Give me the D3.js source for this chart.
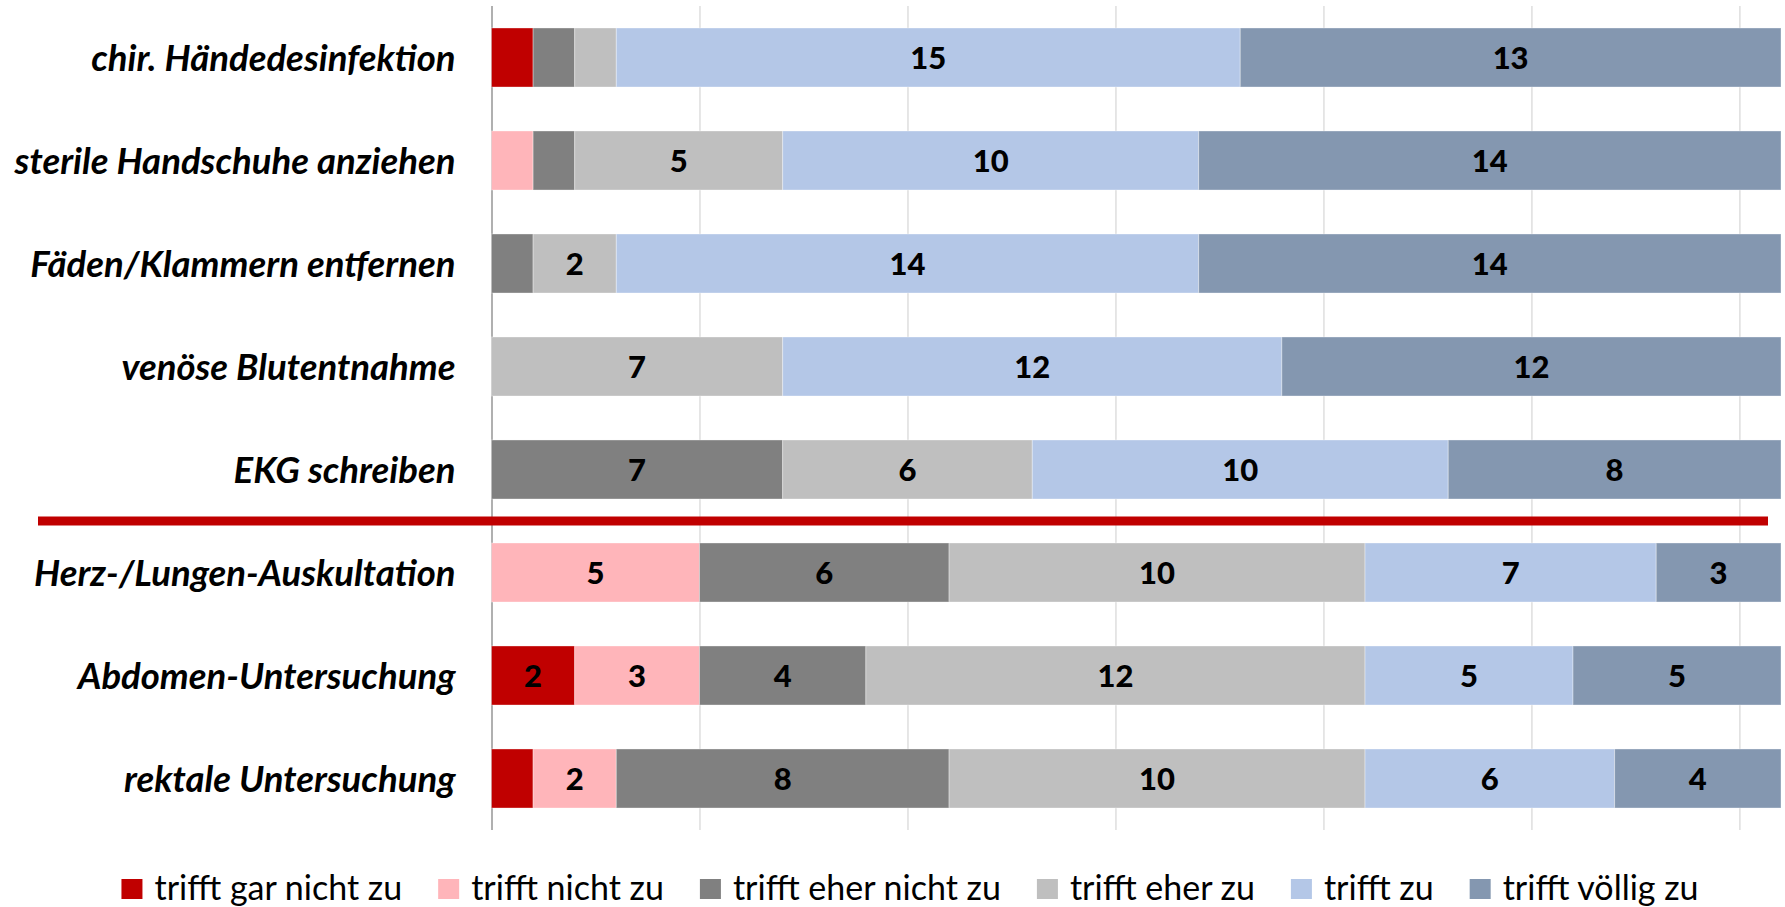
<!DOCTYPE html>
<html>
<head>
<meta charset="utf-8">
<script src="https://d3js.org/d3.v7.min.js"></script>
<style>
  body { margin: 0; background: #ffffff; }
  text { font-family: Lato, "Open Sans", sans-serif; }
</style>
</head>
<body>
<div id="chart"></div>
<script>
// Categories (top to bottom)
var categories = [
    "chir. Händedesinfektion",
    "sterile Handschuhe anziehen",
    "Fäden/Klammern entfernen",
    "venöse Blutentnahme",
    "EKG schreiben",
    "Herz-/Lungen-Auskultation",
    "Abdomen-Untersuchung",
    "rektale Untersuchung"
];

// Series names (legend order = stack order)
var seriesNames = ["trifft gar nicht zu", "trifft nicht zu", "trifft eher nicht zu", "trifft eher zu", "trifft zu", "trifft völlig zu"];

// Series values per category
var garNichtZu = [1, 0, 0, 0, 0, 0, 2, 1];
var nichtZu = [0, 1, 0, 0, 0, 5, 3, 2];
var eherNichtZu = [1, 1, 1, 0, 7, 6, 4, 8];
var eherZu = [1, 5, 2, 7, 6, 10, 12, 10];
var zu = [15, 10, 14, 12, 10, 7, 5, 6];
var voelligZu = [13, 14, 14, 12, 8, 3, 5, 4];

// x-axis gridline ticks
var xTicks = [0, 5, 10, 15, 20, 25, 30];

var colors = ["#c00000", "#ffb5ba", "#808080", "#bfbfbf", "#b4c7e7", "#8497b0"];

// SVG area
var svgWidth = 1785;
var svgHeight = 907;

var chartMargin = { top: 6, right: 4, bottom: 77, left: 491.5 };
var chartWidth = svgWidth - chartMargin.left - chartMargin.right;
var chartHeight = svgHeight - chartMargin.top - chartMargin.bottom;

var svg = d3.select("#chart")
    .append("svg")
    .attr("width", svgWidth)
    .attr("height", svgHeight);

var chartGroup = svg.append("g")
    .attr("transform", `translate(${chartMargin.left}, ${chartMargin.top})`);

// build rows for the stack
var seriesValues = [garNichtZu, nichtZu, eherNichtZu, eherZu, zu, voelligZu];
var rows = categories.map(function (c, i) {
    var row = { category: c };
    seriesNames.forEach(function (s, j) { row[s] = seriesValues[j][i]; });
    return row;
});

var stacked = d3.stack().keys(seriesNames)(rows);

// scales
var xScale = d3.scaleLinear()
    .domain([0, 31])
    .range([0, chartWidth]);

var yScale = d3.scaleBand()
    .domain(categories)
    .range([0, chartHeight])
    .paddingInner(0.427)
    .paddingOuter(0.2135);

// gridlines
var bottomAxis = d3.axisBottom(xScale)
    .tickValues(xTicks)
    .tickSize(chartHeight)
    .tickFormat("");

var gridGroup = chartGroup.append("g")
    .call(bottomAxis);
gridGroup.select(".domain").remove();
gridGroup.selectAll(".tick line")
    .attr("stroke", function (d) { return d === 0 ? "#868686" : "#d9d9d9"; })
    .attr("stroke-width", 1.3);

// bars
var layers = chartGroup.selectAll(".layer")
    .data(stacked)
    .enter()
    .append("g")
    .attr("class", "layer")
    .attr("fill", function (d, i) { return colors[i]; });

layers.selectAll("rect")
    .data(function (d) { return d; })
    .enter()
    .append("rect")
    .attr("x", function (d) { return xScale(d[0]); })
    .attr("y", function (d) { return yScale(d.data.category); })
    .attr("width", function (d) { return xScale(d[1]) - xScale(d[0]); })
    .attr("height", yScale.bandwidth())
    .attr("stroke", "rgba(255,255,255,0.35)")
    .attr("stroke-width", 1);

// data labels (only values of 2 and more are labelled)
layers.selectAll("text")
    .data(function (d) { return d.filter(function (p) { return p[1] - p[0] >= 2; }); })
    .enter()
    .append("text")
    .attr("x", function (d) { return xScale((d[0] + d[1]) / 2); })
    .attr("y", function (d) { return yScale(d.data.category) + yScale.bandwidth() / 2; })
    .attr("dy", "0.37em")
    .attr("text-anchor", "middle")
    .attr("font-size", "31px")
    .attr("font-weight", "900")
    .attr("fill", "#000000")
    .text(function (d) { return d[1] - d[0]; });

// category labels
chartGroup.selectAll(".catLabel")
    .data(categories)
    .enter()
    .append("text")
    .attr("class", "catLabel")
    .attr("x", -36)
    .attr("y", function (d) { return yScale(d) + yScale.bandwidth() / 2; })
    .attr("dy", "0.38em")
    .attr("text-anchor", "end")
    .attr("font-size", "36.5px")
    .attr("font-weight", "bold")
    .attr("font-style", "italic")
    .attr("fill", "#000000")
    .text(function (d) { return d; });

// red separator between the two groups
var sepY = chartMargin.top + yScale(categories[5]) - yScale.step() * yScale.paddingInner() / 2;
svg.append("line")
    .attr("x1", 38)
    .attr("x2", 1768)
    .attr("y1", sepY)
    .attr("y2", sepY)
    .attr("stroke", "#c00000")
    .attr("stroke-width", 9);

// legend
var legendGroup = svg.append("g")
    .attr("transform", "translate(0, 889)");

var legendItems = legendGroup.selectAll(".legendItem")
    .data(seriesNames)
    .enter()
    .append("g")
    .attr("class", "legendItem");

legendItems.append("rect")
    .attr("x", 0)
    .attr("y", -10)
    .attr("width", 21)
    .attr("height", 20)
    .attr("fill", function (d, i) { return colors[i]; });

legendItems.append("text")
    .attr("x", 33)
    .attr("y", 0)
    .attr("dy", "0.33em")
    .attr("font-size", "34px")
    .attr("fill", "#000000")
    .text(function (d) { return d; });

// lay out legend items side by side and center them
var legendGap = 36;
var legendX = 0;
var legendPos = [];
legendItems.each(function () {
    var w = 33 + d3.select(this).select("text").node().getComputedTextLength();
    legendPos.push(legendX);
    legendX += w + legendGap;
});
var legendTotal = legendX - legendGap;
var legendStart = 910 - legendTotal / 2;
legendItems.attr("transform", function (d, i) { return `translate(${legendStart + legendPos[i]}, 0)`; });
</script>
</body>
</html>
